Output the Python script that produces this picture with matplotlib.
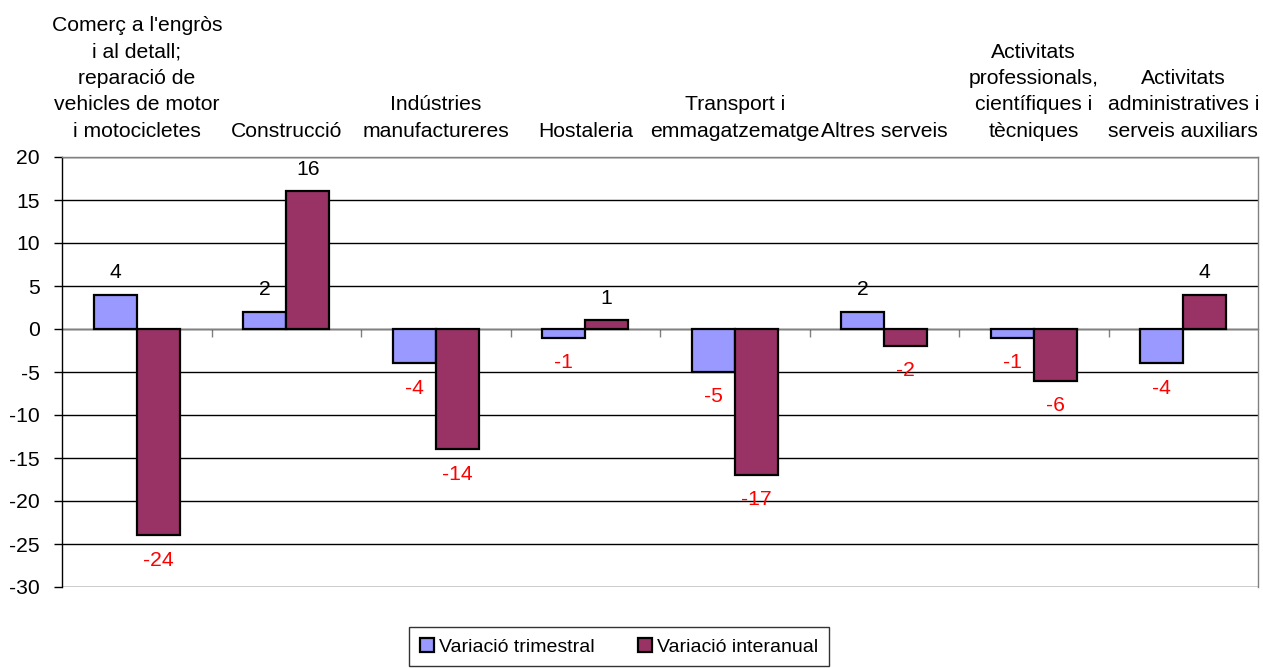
import matplotlib
matplotlib.use("Agg")
import matplotlib.pyplot as plt
from matplotlib.patches import Patch
import matplotlib.transforms as mtrans

categories = [
    "Comerç a l'engròs\ni al detall;\nreparació de\nvehicles de motor\ni motocicletes",
    "Construcció",
    "Indústries\nmanufactureres",
    "Hostaleria",
    "Transport i\nemmagatzematge",
    "Altres serveis",
    "Activitats\nprofessionals,\ncientífiques i\ntècniques",
    "Activitats\nadministratives i\nserveis auxiliars",
]
trimestral = [4, 2, -4, -1, -5, 2, -1, -4]
interanual = [-24, 16, -14, 1, -17, -2, -6, 4]
series_names = ["Variació trimestral", "Variació interanual"]
colors = ["#9999FF", "#993366"]
yticks = [20, 15, 10, 5, 0, -5, -10, -15, -20, -25, -30]

plt.rcParams['font.family'] = ['Liberation Sans', 'DejaVu Sans']
FS = 15.2
FS_LEG = 14

fig = plt.figure(figsize=(12.63, 6.68), dpi=100)
ax = fig.add_axes([62/1263, 81/668, (1258-62)/1263, (587-157)/668])

n = len(categories)
x = list(range(n))
w = 43/149.5
xt = [i - w/2 for i in x]
xi = [i + w/2 for i in x]
ax.bar(xt, trimestral, width=w, color=colors[0], edgecolor='black', linewidth=1.6, zorder=3)
ax.bar(xi, interanual, width=w, color=colors[1], edgecolor='black', linewidth=1.6, zorder=3)

for xs, vals in ((xt, trimestral), (xi, interanual)):
    for xx, v in zip(xs, vals):
        if v >= 0:
            ax.annotate(str(v), (xx, v), xytext=(0, 9), textcoords='offset points',
                        ha='center', va='bottom', fontsize=FS, color='black', zorder=6)
        else:
            ax.annotate(str(v), (xx, v), xytext=(0, -11), textcoords='offset points',
                        ha='center', va='top', fontsize=FS, color='red', zorder=6)

ax.set_xlim(-0.5, n - 0.5)
ax.set_ylim(-30, 20)
ax.set_yticks(yticks)
ax.set_yticklabels([str(t) for t in yticks], fontsize=FS)
ax.tick_params(axis='y', direction='out', length=6, width=1, color='black', pad=10)
ax.yaxis.grid(True, color='black', linewidth=1, zorder=0)
ax.set_axisbelow(True)

ax.set_xticks([i - 0.5 for i in range(1, n)])
ax.set_xticklabels([])
ax.tick_params(axis='x', direction='out', length=6, width=1, color='#808080')
ax.spines['bottom'].set_position(('data', 0))
ax.spines['bottom'].set_color('#808080')
ax.spines['bottom'].set_zorder(2)
ax.spines['top'].set_color('#808080')
ax.spines['right'].set_color('#808080')
ax.spines['left'].set_color('black')
for s in ax.spines.values():
    s.set_linewidth(1)

offset = mtrans.ScaledTranslation(0, 16/100, fig.dpi_scale_trans)
for i, c in enumerate(categories):
    ax.text(i, 20, c, transform=ax.transData + offset, ha='center', va='bottom',
            fontsize=FS, linespacing=1.5, clip_on=False)

handles = [Patch(facecolor=colors[0], edgecolor='black', linewidth=1.6),
           Patch(facecolor=colors[1], edgecolor='black', linewidth=1.6)]
leg = fig.legend(handles, series_names, loc='upper center', bbox_to_anchor=(619/1263, 1 - 627/668),
                 ncol=2, fontsize=FS_LEG, frameon=True, fancybox=False, edgecolor='black',
                 handlelength=0.75, handleheight=0.75, handletextpad=0.25, columnspacing=2.2,
                 borderpad=0.55, borderaxespad=0)
leg.get_frame().set_linewidth(1)

fig.savefig("out.png", dpi=100)
